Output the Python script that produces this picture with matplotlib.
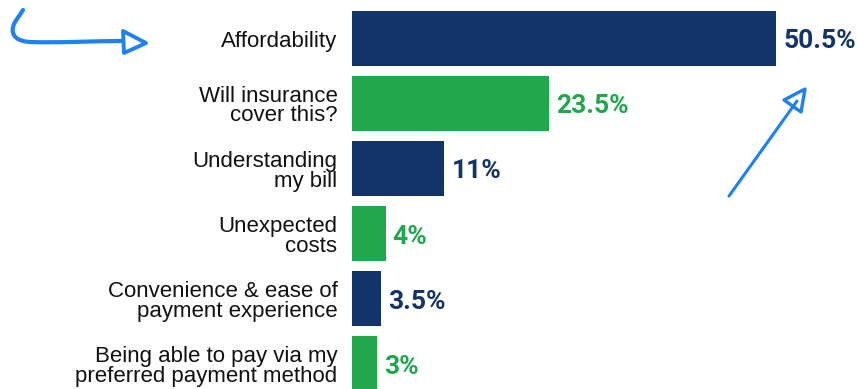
import matplotlib
matplotlib.use("Agg")
import matplotlib.pyplot as plt
from matplotlib.path import Path
from matplotlib.patches import PathPatch, Polygon
import numpy as np

categories = [
    "Affordability",
    "Will insurance\ncover this?",
    "Understanding\nmy bill",
    "Unexpected\ncosts",
    "Convenience & ease of\npayment experience",
    "Being able to pay via my\npreferred payment method",
]
values = [50.5, 23.5, 11, 4, 3.5, 3]
value_labels = ["50.5%", "23.5%", "11%", "4%", "3.5%", "3%"]

NAVY = "#13346a"
GREEN = "#21a84f"
ARROW = "#1f80f2"
colors = [NAVY, GREEN, NAVY, GREEN, NAVY, GREEN]

W, H = 858, 389
fig = plt.figure(figsize=(W / 100, H / 100), dpi=100)
fig.patch.set_facecolor("white")

left_px, width_px = 352, 504
ax = fig.add_axes([left_px / W, 0, width_px / W, 1])
ax.set_xlim(0, width_px / 8.4)
pitch = 65.1
ax.set_ylim(5 + (H - 364) / pitch, -38.5 / pitch)
ax.axis("off")

y = np.arange(len(categories))
ax.barh(y, values, height=0.845, color=colors, left=0)

for yi, v, lab, c in zip(y, values, value_labels, colors):
    ax.annotate(lab, (v, yi), xytext=(5, -2), textcoords="offset points",
                ha="left", va="center", fontsize=19, fontweight="bold",
                color=c, family=["Roboto", "DejaVu Sans"])

for yi, cat in zip(y, categories):
    ax.annotate(cat, (0, yi), xytext=(-10.5, -1.8), textcoords="offset points",
                ha="right", va="center", fontsize=16, color="#111111",
                linespacing=0.92, family=["Liberation Sans", "DejaVu Sans"])

# decorative hand-drawn arrows (figure pixel coords, y from top)
def fp(x, yy):
    return (x / W, 1 - yy / H)

verts = [fp(23, 10), fp(15, 22),
         fp(10, 31), fp(12, 41), fp(30, 42),
         fp(60, 43), fp(95, 41), fp(121, 41)]
codes = [Path.MOVETO, Path.LINETO,
         Path.CURVE4, Path.CURVE4, Path.CURVE4,
         Path.CURVE4, Path.CURVE4, Path.CURVE4]
fig.add_artist(PathPatch(Path(verts, codes), transform=fig.transFigure,
                         fill=False, edgecolor=ARROW, lw=3.0, capstyle="round",
                         joinstyle="round"))
fig.add_artist(Polygon([fp(123, 31), fp(146, 43), fp(124, 53)], closed=True,
                       transform=fig.transFigure, fill=False, edgecolor=ARROW,
                       lw=2.8, joinstyle="round"))

fig.add_artist(plt.Line2D([729 / W, 797 / W], [1 - 196 / H, 1 - 101 / H],
                          transform=fig.transFigure, color=ARROW, lw=2.2,
                          solid_capstyle="round"))
fig.add_artist(Polygon([fp(805, 89), fp(784, 100), fp(801, 112)], closed=True,
                       transform=fig.transFigure, fill=False, edgecolor=ARROW,
                       lw=2.4, joinstyle="round"))

fig.savefig("out.png", dpi=100, facecolor="white")
